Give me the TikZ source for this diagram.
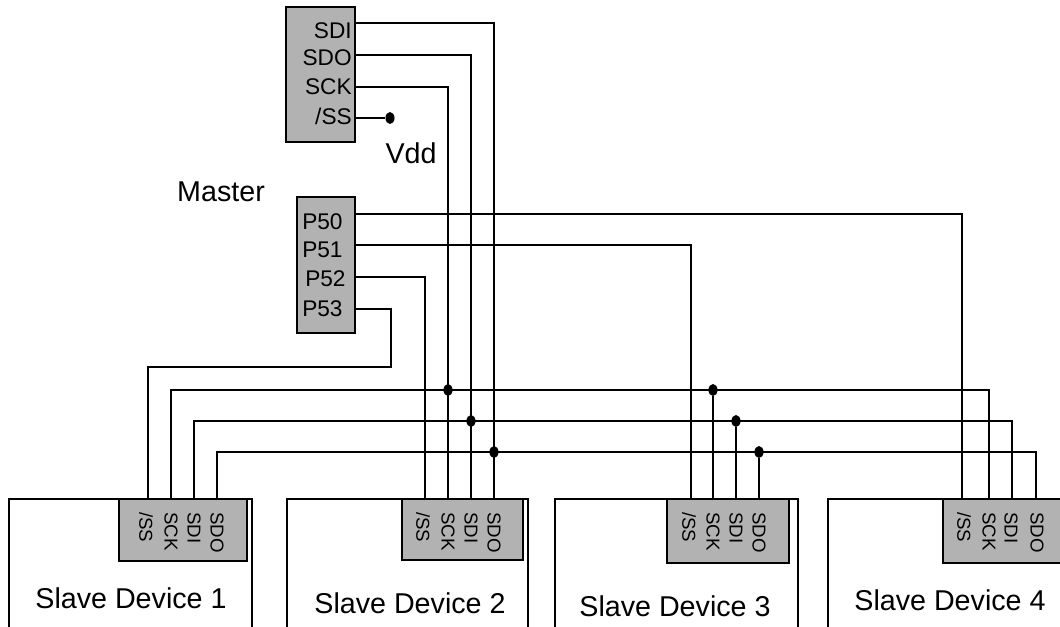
\documentclass[tikz,border=0pt]{standalone}
\usepackage{fontspec}
\setmainfont{Liberation Sans}
\usetikzlibrary{calc,positioning,fit,shapes.geometric}
\definecolor{chipgray}{RGB}{178,178,178}

\begin{document}
\begin{tikzpicture}[x=0.75pt, y=-0.75pt,
  wire/.style = {black, line width=1pt},
  chip/.style = {draw=black, line width=1pt, fill=chipgray, inner sep=0pt},
  dev/.style = {draw=black, line width=1pt, inner sep=0pt},
  pinlbl/.style = {inner sep=0pt, font=\fontsize{17}{17}\selectfont},
  slvpin/.style = {inner sep=0pt, rotate=-90, anchor=west, font=\fontsize{14}{14}\selectfont},
  biglbl/.style = {inner sep=0pt, anchor=base, font=\fontsize{21.5}{21.5}\selectfont},
  joint/.style = {ellipse, fill=black, inner sep=0pt, minimum width=6.8pt, minimum height=9pt}]
\path[use as bounding box, clip] (0,0) rectangle (1060,626);

% master, spi side
\node[chip, fit={(286,7) (355,142)}] (spi) {};
\coordinate (msdi) at (355,23);
\coordinate (msdo) at (355,55);
\coordinate (msck) at (355,87);
\coordinate (mss) at (355,118);
\node[pinlbl, anchor=east] (lsdi) at (352,31) {SDI};
\node[pinlbl, anchor=east] (lsdo) at (352,58) {SDO};
\node[pinlbl, anchor=east] (lsck) at (352,87) {SCK};
\node[pinlbl, anchor=east] (lss) at (352,116) {/SS};
\node[joint] (vddpt) at (390,118) {};
\node[biglbl] (vdd) at (411,163) {Vdd};
\node[biglbl] (master) at (221,201) {Master};

% master, port side
\node[chip, fit={(297,197) (355,333)}] (port) {};
\coordinate (p50) at (355,214);
\coordinate (p51) at (355,245);
\coordinate (p52) at (355,277);
\coordinate (p53) at (355,309);
\node[pinlbl, anchor=west] (lp50) at (302,222) {P50};
\node[pinlbl, anchor=west] (lp51) at (302,250) {P51};
\node[pinlbl, anchor=west] (lp52) at (305,279) {P52};
\node[pinlbl, anchor=west] (lp53) at (302,309) {P53};

% slave 1
\node[dev, fit={(9,499) (252,640)}] (dev1) {};
\node[biglbl] (name1) at (131,608) {Slave Device 1};
\node[chip, fit={(119,499) (247,561)}] (pins1) {};
\coordinate (s1ss) at (148,499);
\coordinate (s1sck) at (171,499);
\coordinate (s1sdi) at (194,499);
\coordinate (s1sdo) at (217,499);
\node[slvpin] (l1ss) at (146,512) {/SS};
\node[slvpin] (l1sck) at (171,512) {SCK};
\node[slvpin] (l1sdi) at (194,512) {SDI};
\node[slvpin] (l1sdo) at (217,512) {SDO};

% slave 2
\node[dev, fit={(287,499) (528,640)}] (dev2) {};
\node[biglbl] (name2) at (410,613) {Slave Device 2};
\node[chip, fit={(402,499) (523,560)}] (pins2) {};
\coordinate (s2ss) at (425,499);
\coordinate (s2sck) at (448,499);
\coordinate (s2sdi) at (471,499);
\coordinate (s2sdo) at (494,499);
\node[slvpin] (l2ss) at (423,512) {/SS};
\node[slvpin] (l2sck) at (448,512) {SCK};
\node[slvpin] (l2sdi) at (471,512) {SDI};
\node[slvpin] (l2sdo) at (494,512) {SDO};

% slave 3
\node[dev, fit={(555,499) (798,640)}] (dev3) {};
\node[biglbl] (name3) at (675,616) {Slave Device 3};
\node[chip, fit={(667,499) (789,563)}] (pins3) {};
\coordinate (s3ss) at (691,499);
\coordinate (s3sck) at (713,499);
\coordinate (s3sdi) at (736,499);
\coordinate (s3sdo) at (759,499);
\node[slvpin] (l3ss) at (689,512) {/SS};
\node[slvpin] (l3sck) at (713,512) {SCK};
\node[slvpin] (l3sdi) at (736,512) {SDI};
\node[slvpin] (l3sdo) at (759,512) {SDO};

% slave 4 (runs off the right edge)
\node[dev, fit={(828,499) (1080,640)}] (dev4) {};
\node[biglbl] (name4) at (950,610) {Slave Device 4};
\node[chip, fit={(943,499) (1075,563)}] (pins4) {};
\coordinate (s4ss) at (962,499);
\coordinate (s4sck) at (989,499);
\coordinate (s4sdi) at (1012,499);
\coordinate (s4sdo) at (1036,499);
\node[slvpin] (l4ss) at (964,512) {/SS};
\node[slvpin] (l4sck) at (989,512) {SCK};
\node[slvpin] (l4sdi) at (1011,512) {SDI};
\node[slvpin] (l4sdo) at (1037,512) {SDO};

% bus rows
\coordinate (sckbus) at (0,390);
\coordinate (sdibus) at (0,421);
\coordinate (sdobus) at (0,452);
\node[joint] (j2sck) at (s2sck |- sckbus) {};
\node[joint] (j3sck) at (s3sck |- sckbus) {};
\node[joint] (j2sdi) at (s2sdi |- sdibus) {};
\node[joint] (j3sdi) at (s3sdi |- sdibus) {};
\node[joint] (j2sdo) at (s2sdo |- sdobus) {};
\node[joint] (j3sdo) at (s3sdo |- sdobus) {};

% spi lines from the master
\draw[wire] (msdi) -| (s2sdo);
\draw[wire] (msdo) -| (s2sdi);
\draw[wire] (msck) -| (s2sck);
\draw[wire] (mss) -- (vddpt);

% slave selects
\coordinate (ssbend) at (391,367);
\draw[wire] (p50) -| (s4ss);
\draw[wire] (p51) -| (s3ss);
\draw[wire] (p52) -| (s2ss);
\draw[wire] (p53) -| (ssbend) -| (s1ss);

% shared lines
\draw[wire] (s1sck) -- (s1sck |- sckbus) -- (s4sck |- sckbus) -- (s4sck);
\draw[wire] (s1sdi) -- (s1sdi |- sdibus) -- (s4sdi |- sdibus) -- (s4sdi);
\draw[wire] (s1sdo) -- (s1sdo |- sdobus) -- (s4sdo |- sdobus) -- (s4sdo);
\draw[wire] (s3sck) -- (j3sck);
\draw[wire] (s3sdi) -- (j3sdi);
\draw[wire] (s3sdo) -- (j3sdo);
%\draw[wire] (s2sck) -- (j2sck);
\end{tikzpicture}
\end{document}
